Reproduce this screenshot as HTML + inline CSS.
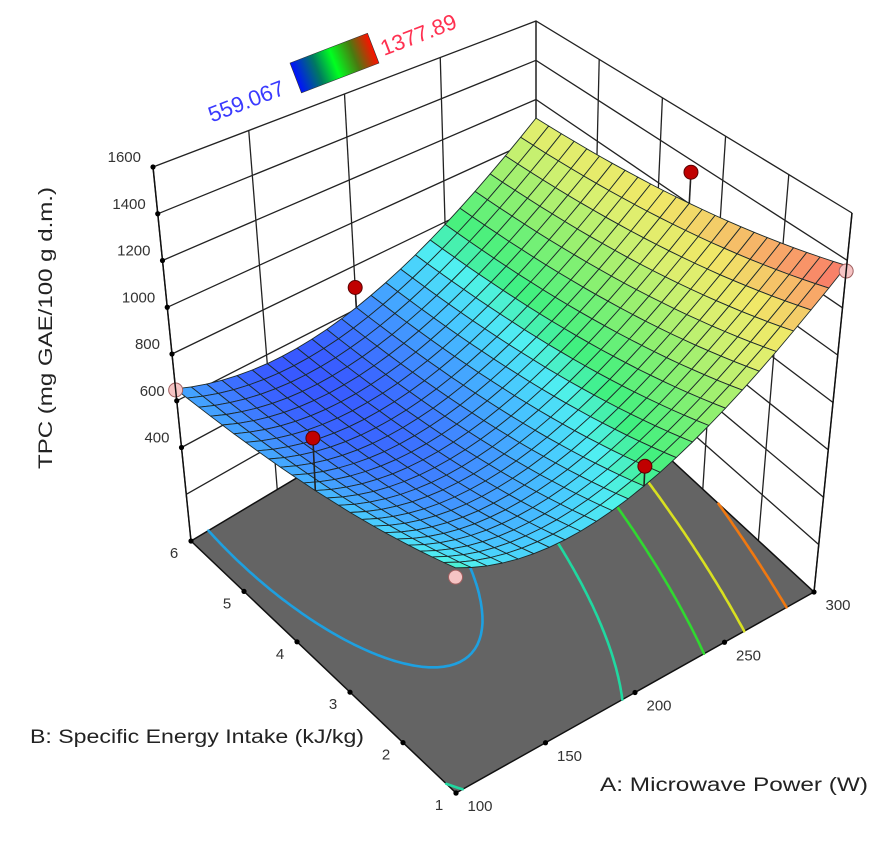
<!DOCTYPE html>
<html><head><meta charset="utf-8"><style>
html,body{margin:0;padding:0;background:#fff;}
svg{display:block;font-family:"Liberation Sans",Arial,sans-serif;}
</style></head><body>
<svg id="chart" width="895" height="845" viewBox="0 0 895 845">
<defs>
<linearGradient id="cbar" x1="0" x2="1" y1="0" y2="0">
<stop offset="0" stop-color="#0010ff"/><stop offset="0.28" stop-color="#007a60"/><stop offset="0.5" stop-color="#00ff20"/><stop offset="0.75" stop-color="#4a7a10"/><stop offset="1" stop-color="#ff1000"/>
</linearGradient>
</defs>
<g id="walls"></g>
<g id="floor"></g>
<g id="contours"></g>
<g id="surface"></g>
<g id="points"></g>
<g id="labels"></g>
<g>
<g transform="translate(290,63) rotate(-21)"><rect x="0" y="0" width="83" height="32" fill="url(#cbar)" stroke="#333" stroke-width="0.6"/></g>
<text x="286" y="94" transform="rotate(-21 286 94)" text-anchor="end" font-size="22" fill="#3a3aff">559.067</text>
<text x="384" y="56" transform="rotate(-21 384 56)" text-anchor="start" font-size="22" fill="#ff3050">1377.89</text>
</g>
<text x="0" y="0" transform="translate(52,328) rotate(-90)" text-anchor="middle" font-size="19" fill="#222" textLength="282" lengthAdjust="spacingAndGlyphs">TPC (mg GAE/100 g d.m.)</text>
<text x="30" y="743" font-size="19" fill="#222" textLength="334" lengthAdjust="spacingAndGlyphs">B: Specific Energy Intake (kJ/kg)</text>
<text x="600" y="791" font-size="19" fill="#222" textLength="268" lengthAdjust="spacingAndGlyphs">A: Microwave Power (W)</text>
</svg>
<script>
// ---- data ----
const aTicks = [100,150,200,250,300];
const bTicks = [1,2,3,4,5,6];
const zTicks = [400,600,800,1000,1200,1400,1600];
const legendRange = [559.067, 1377.89];
// response surface model: z = s(b) + t(b)*a + u(b)*a^2   (a,b coded -1..1)
const sCoef = [653.5, -86.5, 40];
const tCoef = [265.5, -38.5];
const uCoef = [282.5, -11.5];
const contourLevels = [622, 760, 941, 1075, 1248];
const pointA = [300, 200, 200, 100, 100, 300, 100];
const pointB = [3.5, 1, 6, 3.5, 6, 1, 1];
const pointZ = [1345, 855, 700, 870, 646, 1355, 738];
const pointAbove = [true, true, true, true, false, false, false];

// ---- style ----
const contourColors = ["#1ea0e0","#20d8a0","#30d830","#d8e020","#f07810"];
const cStopsT = [0,0.06,0.15,0.22,0.29,0.45,0.6,0.72,0.86,1];
const cStopsC = ["#3858ff","#4088ff","#48c8ff","#50f0f0","#40f080","#90f070","#d8f070","#f0e868","#f8a868","#f86868"];
const NS = "http://www.w3.org/2000/svg";
const F = {p00:[456,793],p10:[814,592],p01:[191,541],p11:[536,335]};
const T = {p00:[455,325],p10:[852,213],p01:[153,167],p11:[536,21]};

function bil(Q,u,v){
  return [Q.p00[0]*(1-u)*(1-v)+Q.p10[0]*u*(1-v)+Q.p01[0]*(1-u)*v+Q.p11[0]*u*v,
          Q.p00[1]*(1-u)*(1-v)+Q.p10[1]*u*(1-v)+Q.p01[1]*(1-u)*v+Q.p11[1]*u*v];
}
function proj(A,B,z){
  const u=(A-100)/200, v=(B-1)/5, w=z/1600;
  const b=bil(F,u,v), t=bil(T,u,v);
  return [b[0]+(t[0]-b[0])*w, b[1]+(t[1]-b[1])*w];
}
function model(A,B){
  const a=(A-200)/100, b=(B-3.5)/2.5;
  const s=sCoef[0]+sCoef[1]*b+sCoef[2]*b*b;
  const t=tCoef[0]+tCoef[1]*b;
  const u=uCoef[0]+uCoef[1]*b;
  return s+t*a+u*a*a;
}
function hex(c){return [parseInt(c.slice(1,3),16),parseInt(c.slice(3,5),16),parseInt(c.slice(5,7),16)];}
function color(z){
  let t=(z-legendRange[0])/(legendRange[1]-legendRange[0]);
  t=Math.max(0,Math.min(1,t));
  for(let i=0;i<cStopsT.length-1;i++){
    if(t<=cStopsT[i+1]){
      const f=(t-cStopsT[i])/(cStopsT[i+1]-cStopsT[i]);
      const c1=hex(cStopsC[i]),c2=hex(cStopsC[i+1]);
      return `rgb(${Math.round(c1[0]+(c2[0]-c1[0])*f)},${Math.round(c1[1]+(c2[1]-c1[1])*f)},${Math.round(c1[2]+(c2[2]-c1[2])*f)})`;
    }
  }
  return cStopsC[cStopsC.length-1];
}
function mk(tag,attrs,parent){
  const e=document.createElementNS(NS,tag);
  for(const k in attrs) e.setAttribute(k,attrs[k]);
  parent.appendChild(e); return e;
}
function pts(arr){return arr.map(p=>p[0].toFixed(1)+","+p[1].toFixed(1)).join(" ");}

// ---- walls ----
const walls=document.getElementById("walls");
const zMax=1600, zGrid=[200,400,600,800,1000,1200,1400,1600];
zGrid.forEach(z=>{
  const l=mk("polyline",{points:pts([proj(100,6,z),proj(300,6,z),proj(300,1,z)]),fill:"none",stroke:"#222","stroke-width":1.3},walls);
  
  
});
aTicks.forEach(A=>{
  const l=mk("line",{x1:proj(A,6,0)[0],y1:proj(A,6,0)[1],x2:proj(A,6,zMax)[0],y2:proj(A,6,zMax)[1],stroke:"#222","stroke-width":1.3},walls);
  
  
});
bTicks.forEach(B=>{
  const l=mk("line",{x1:proj(300,B,0)[0],y1:proj(300,B,0)[1],x2:proj(300,B,zMax)[0],y2:proj(300,B,zMax)[1],stroke:"#222","stroke-width":1.3},walls);
  
  
});

// ---- floor ----
const floor=document.getElementById("floor");
const fl=mk("polygon",{points:pts([proj(100,1,0),proj(300,1,0),proj(300,6,0),proj(100,6,0)]),fill:"#646464",stroke:"#111","stroke-width":1.5},floor);



// ---- contours (marching squares) ----
const cg=document.getElementById("contours");
const N=80;
contourLevels.forEach((L,li)=>{
  let d="";
  for(let i=0;i<N;i++)for(let j=0;j<N;j++){
    const A0=100+200*i/N,A1=100+200*(i+1)/N,B0=1+5*j/N,B1=1+5*(j+1)/N;
    const c=[[A0,B0,model(A0,B0)],[A1,B0,model(A1,B0)],[A1,B1,model(A1,B1)],[A0,B1,model(A0,B1)]];
    const cross=[];
    for(let k=0;k<4;k++){
      const p=c[k],q=c[(k+1)%4];
      if((p[2]-L)*(q[2]-L)<0){
        const f=(L-p[2])/(q[2]-p[2]);
        cross.push(proj(p[0]+(q[0]-p[0])*f,p[1]+(q[1]-p[1])*f,0));
      }
    }
    for(let k=0;k+1<cross.length;k+=2) d+=`M${cross[k][0].toFixed(1)},${cross[k][1].toFixed(1)}L${cross[k+1][0].toFixed(1)},${cross[k+1][1].toFixed(1)}`;
  }
  const p=mk("path",{d:d,stroke:contourColors[li],"stroke-width":2.6,fill:"none","stroke-linecap":"round"},cg);
  
  
});

// ---- surface ----
const sg=document.getElementById("surface");
const M=24, quads=[];
for(let i=0;i<M;i++)for(let j=0;j<M;j++){
  const A0=100+200*i/M,A1=100+200*(i+1)/M,B0=1+5*j/M,B1=1+5*(j+1)/M;
  const zs=[model(A0,B0),model(A1,B0),model(A1,B1),model(A0,B1)];
  quads.push({k:i+j,p:[proj(A0,B0,zs[0]),proj(A1,B0,zs[1]),proj(A1,B1,zs[2]),proj(A0,B1,zs[3])],z:(zs[0]+zs[1]+zs[2]+zs[3])/4});
}
quads.sort((x,y)=>y.k-x.k);
quads.forEach(q=>{
  const e=mk("polygon",{points:pts(q.p),fill:color(q.z),stroke:"#1c2a2a","stroke-width":0.9,"stroke-linejoin":"round"},sg);
  
  
});

// ---- design points ----
const pg=document.getElementById("points");
pointA.forEach((A,i)=>{
  const B=pointB[i], p=proj(A,B,pointZ[i]), s=proj(A,B,model(A,B));
  if(pointAbove[i]){
    const st=mk("line",{x1:p[0],y1:p[1],x2:s[0],y2:s[1],stroke:"#222","stroke-width":1.6},pg);
    
    
  }
  const c=mk("circle",{cx:p[0],cy:p[1],r:7,fill:pointAbove[i]?"#c00000":"#f6c4c4",stroke:pointAbove[i]?"#5a0000":"#a06060","stroke-width":1},pg);
  
  
});

// ---- box edges & ticks ----
const lg=document.getElementById("labels");
[[proj(100,6,0),proj(100,6,zMax)],[proj(300,1,0),proj(300,1,zMax)]].forEach(s=>{
  const e=mk("line",{x1:s[0][0],y1:s[0][1],x2:s[1][0],y2:s[1][1],stroke:"#111","stroke-width":1.5},lg);
  
  
});
zTicks.forEach(z=>{
  const p=proj(100,6,z);
  const d=mk("circle",{cx:p[0],cy:p[1],r:2.6,fill:"#000"},lg);
  
  
  const t=mk("text",{x:p[0]-12,y:p[1]-5,"text-anchor":"end","font-size":15,fill:"#333"},lg);
  t.textContent=z;
  
  
});
aTicks.forEach(A=>{
  const p=proj(A,1,0);
  const d=mk("circle",{cx:p[0],cy:p[1],r:2.6,fill:"#000"},lg);
  
  
  const t=mk("text",{x:p[0]+24,y:p[1]+18,"text-anchor":"middle","font-size":15,fill:"#333"},lg);
  t.textContent=A;
  
  
});
bTicks.forEach(B=>{
  const p=proj(100,B,0);
  const d=mk("circle",{cx:p[0],cy:p[1],r:2.6,fill:"#000"},lg);
  
  
  const t=mk("text",{x:p[0]-17,y:p[1]+17,"text-anchor":"middle","font-size":15,fill:"#333"},lg);
  t.textContent=B;
  
  
});
</script>
</body></html>
